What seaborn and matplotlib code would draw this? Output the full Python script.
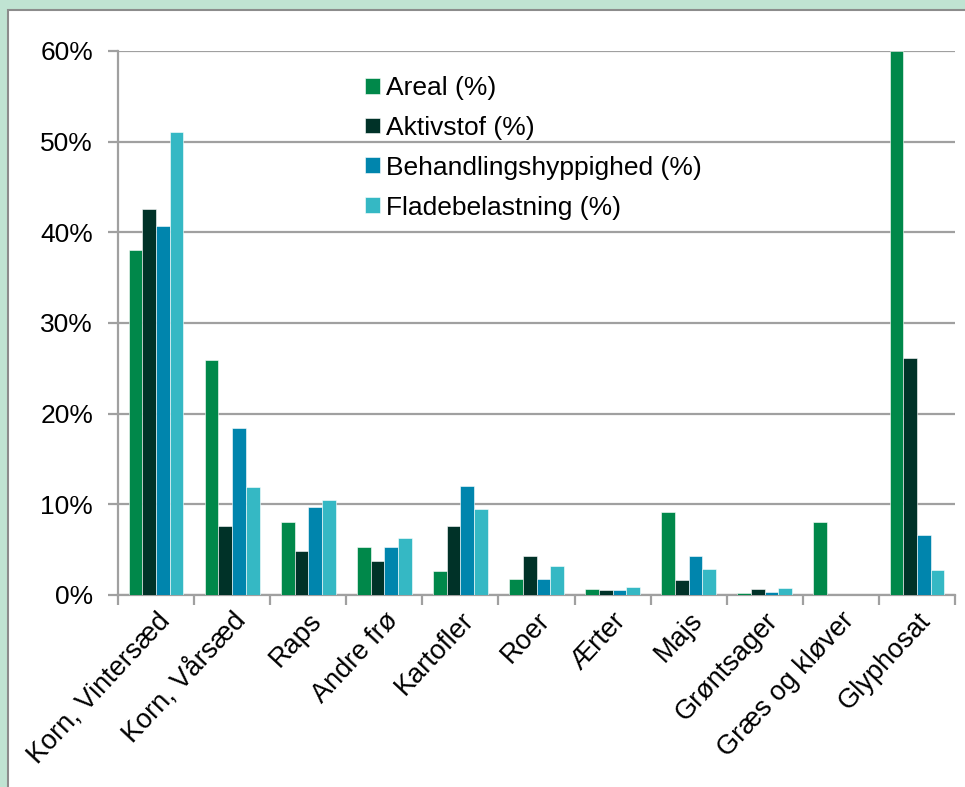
import pandas as pd
import matplotlib.pyplot as plt
import seaborn as sns
from matplotlib.patches import Rectangle
from matplotlib.ticker import PercentFormatter, FixedLocator

# Values (percent)
categories = ['Korn, Vintersæd', 'Korn, Vårsæd', 'Raps', 'Andre frø', 'Kartofler',
              'Roer', 'Ærter', 'Majs', 'Grøntsager', 'Græs og kløver', 'Glyphosat']
areal = [38.0, 25.9, 8.0, 5.3, 2.65, 1.75, 0.7, 9.2, 0.25, 8.1, 60.0]
aktivstof = [42.6, 7.6, 4.85, 3.7, 7.6, 4.3, 0.5, 1.65, 0.7, 0.0, 26.1]
behandling = [40.7, 18.4, 9.7, 5.3, 12.05, 1.75, 0.5, 4.3, 0.36, 0.0, 6.6]
flade = [51.1, 11.9, 10.5, 6.25, 9.5, 3.2, 0.9, 2.9, 0.77, 0.0, 2.8]

series = ['Areal (%)', 'Aktivstof (%)', 'Behandlingshyppighed (%)', 'Fladebelastning (%)']
colors = ['#00884a', '#003228', '#0085ad', '#35b8c4']

df = pd.DataFrame({
    'Kategori': categories * 4,
    'Serie': [s for s in series for _ in categories],
    'Værdi': areal + aktivstof + behandling + flade,
})

sns.set_style('white')
plt.rcParams['font.family'] = ['Liberation Sans', 'DejaVu Sans']
plt.rcParams['text.color'] = 'black'
plt.rcParams['xtick.labelcolor'] = 'black'
plt.rcParams['ytick.labelcolor'] = 'black'

fig = plt.figure(figsize=(9.65, 7.87), dpi=100, facecolor='#c0e3d2')
# white chart area with thin gray frame
fig.patches.append(Rectangle((8 / 965, -0.1), 1.1, 1.1 - 10 / 787, transform=fig.transFigure,
                             facecolor='white', edgecolor='#8c8c8c', linewidth=1.5, zorder=-10))

ax = fig.add_axes([118 / 965, 1 - 595 / 787, (955 - 118) / 965, (595 - 51) / 787])
ax.set_facecolor('none')
ax.set_zorder(5)

sns.barplot(data=df, x='Kategori', y='Værdi', hue='Serie', palette=colors, saturation=1,
            width=0.72, gap=0, edgecolor='white', linewidth=0.4, ax=ax, zorder=3)

ax.set_ylim(0, 60)
ax.set_xlim(-0.5, len(categories) - 0.5)
ax.set_yticks(range(0, 61, 10))
ax.yaxis.set_major_formatter(PercentFormatter(100, decimals=0))
ax.yaxis.grid(True, color='#a0a0a0', linewidth=1.6, zorder=0)
ax.set_axisbelow(True)

for s in ['top', 'right']:
    ax.spines[s].set_visible(False)
for s in ['left', 'bottom']:
    ax.spines[s].set_color('#a0a0a0')
    ax.spines[s].set_linewidth(1.6)

ax.tick_params(axis='y', which='major', direction='out', length=7, width=1.6, color='#a0a0a0',
               labelsize=19, pad=11, left=True, labelcolor='black')
ax.tick_params(axis='x', which='major', length=0, labelsize=19.5, pad=9, labelcolor='black')
ax.xaxis.set_minor_locator(FixedLocator([i - 0.5 for i in range(len(categories) + 1)]))
ax.tick_params(axis='x', which='minor', direction='out', length=7, width=1.6, color='#a0a0a0', bottom=True)

plt.setp(ax.get_xticklabels(), rotation=47, ha='right', rotation_mode='anchor')
ax.set_xlabel('')
ax.set_ylabel('')

leg = ax.legend(loc='upper left', bbox_to_anchor=(365 / 965, 1 - 76 / 787), bbox_transform=fig.transFigure,
                frameon=False, fontsize=19, handlelength=0.55, handleheight=0.55, handletextpad=0.25,
                labelspacing=0.6, borderpad=0, borderaxespad=0, title=None)
for t in leg.get_texts():
    t.set_color('black')

fig.savefig('out.png', dpi=100, facecolor=fig.get_facecolor())
